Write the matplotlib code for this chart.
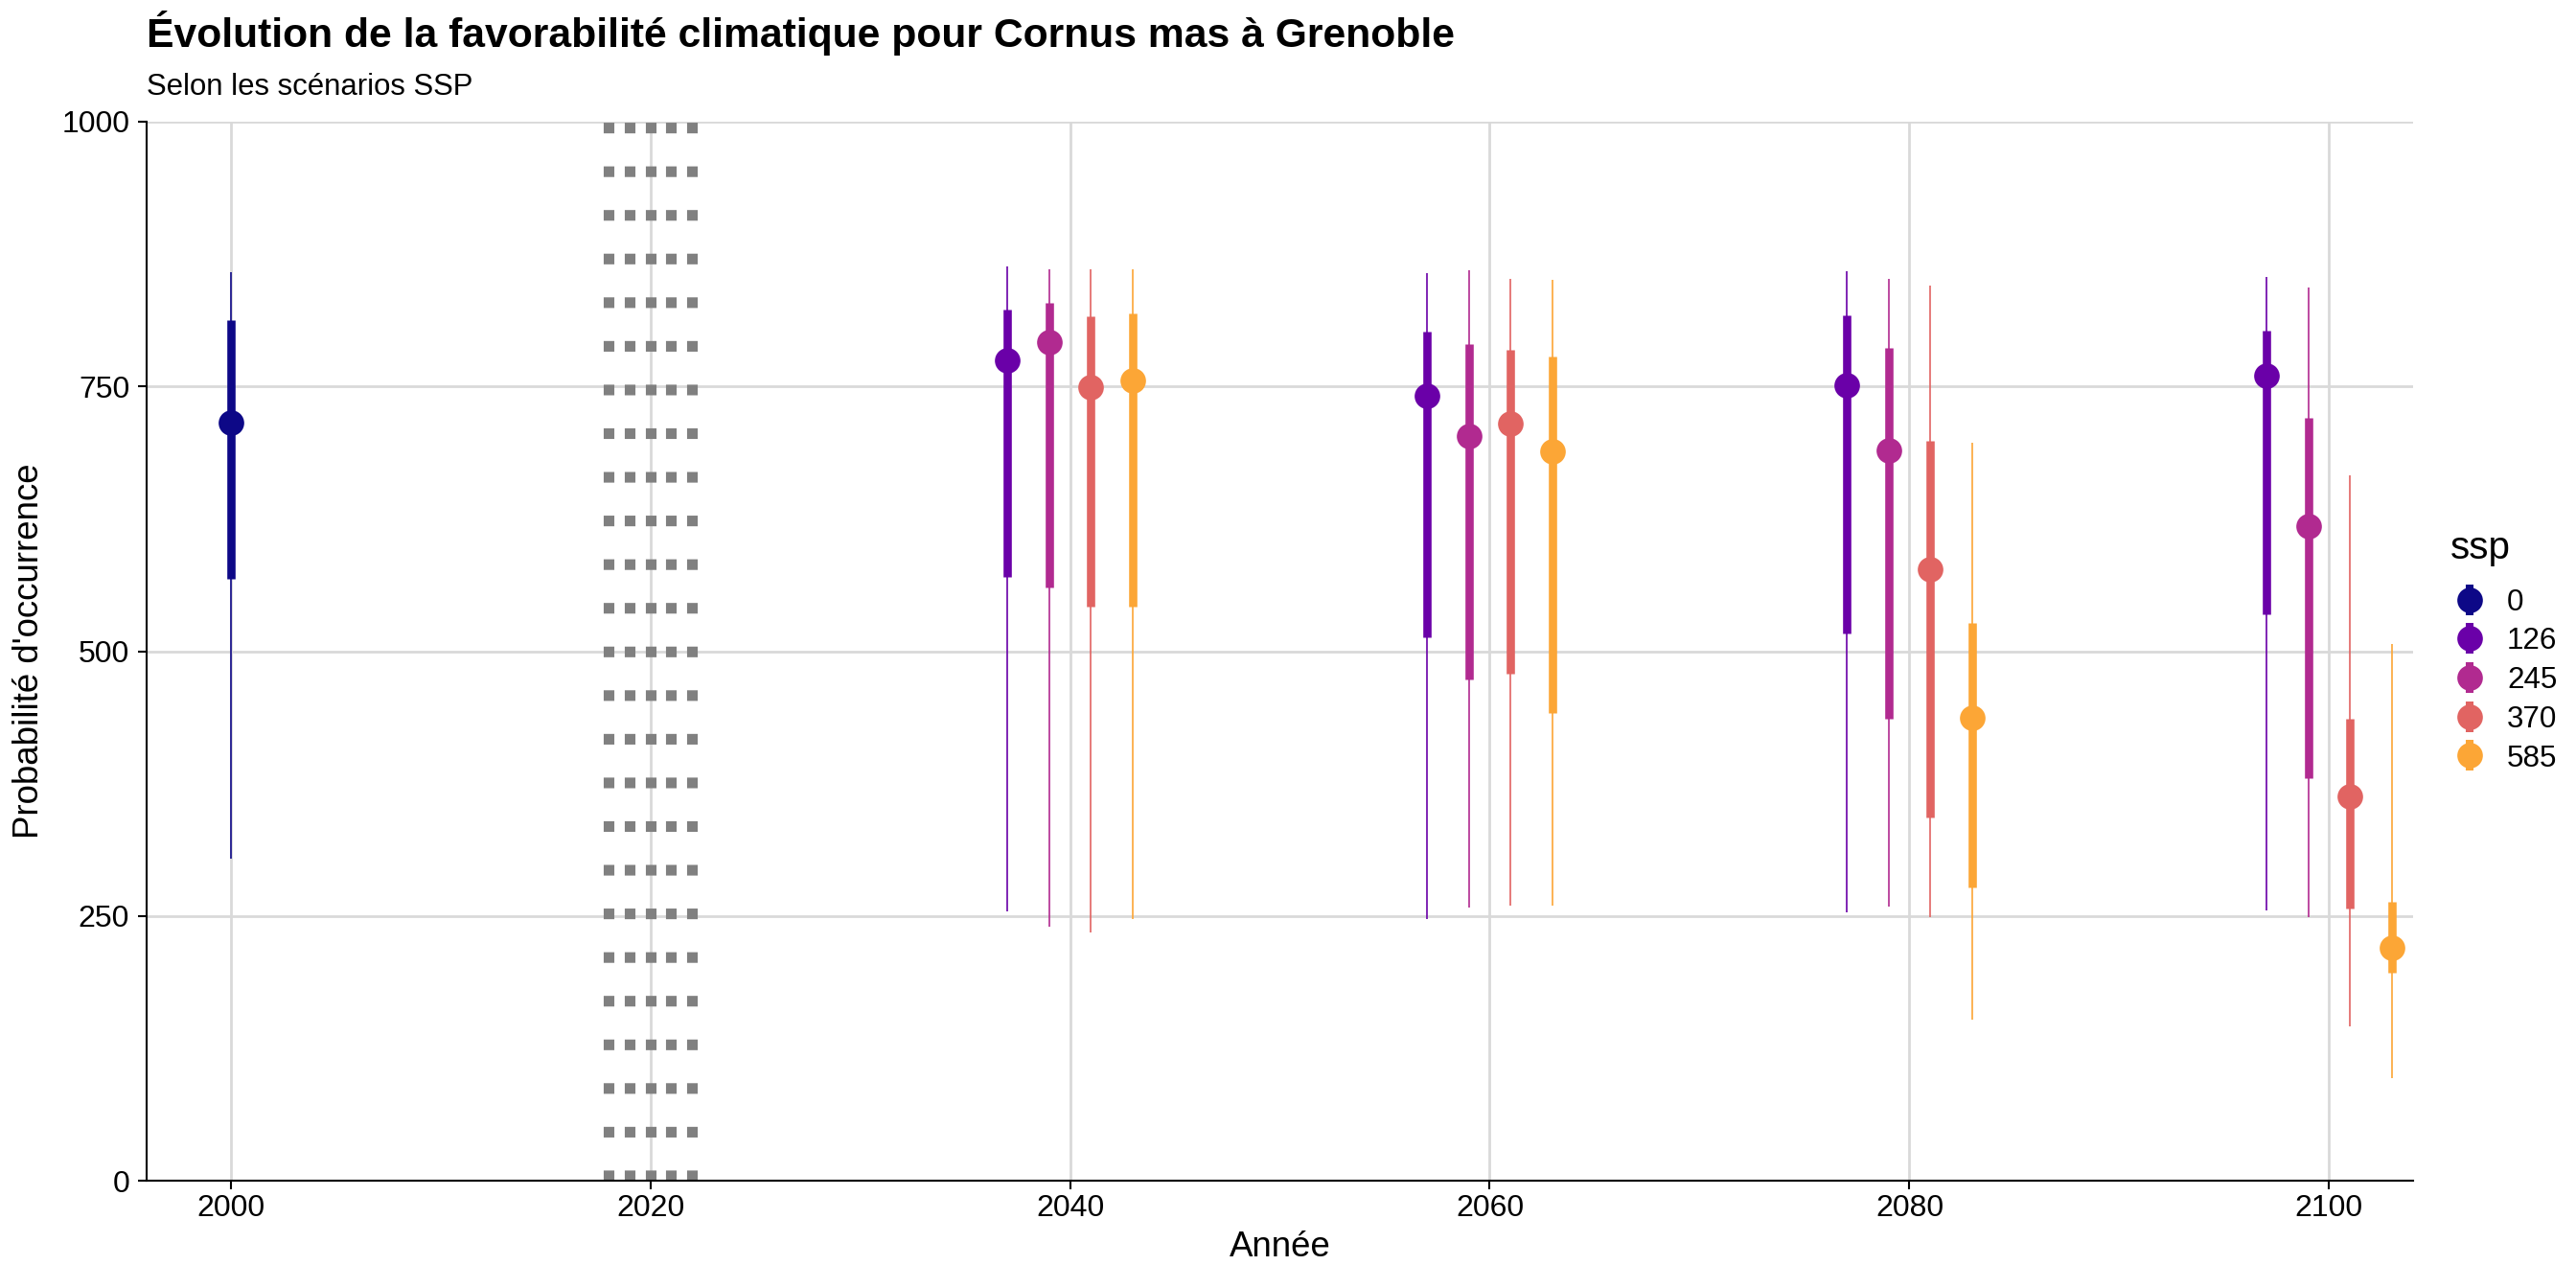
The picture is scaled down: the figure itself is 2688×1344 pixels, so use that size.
import matplotlib
matplotlib.use("Agg")
import matplotlib.pyplot as plt
from matplotlib.lines import Line2D
import numpy as np

# === Données ===
ssp_labels = ["0", "126", "245", "370", "585"]
ssp_colors = ["#0D0887", "#6A00A8", "#B12A90", "#E16462", "#FCA636"]

annees_hist = [2000]
annees_fut = [2040, 2060, 2080, 2100]

# ssp 0 (historique)
med_0 = [716]
q66_bas_0 = [568]
q66_haut_0 = [813]
q95_bas_0 = [304]
q95_haut_0 = [858]

# scénarios futurs : une liste par ssp, valeurs pour 2040, 2060, 2080, 2100
med_fut = {
    "126": [775, 741, 751, 760],
    "245": [792, 703, 690, 618],
    "370": [749, 715, 577, 363],
    "585": [756, 689, 437, 220],
}
q66_bas_fut = {
    "126": [570, 513, 517, 535],
    "245": [560, 473, 436, 380],
    "370": [542, 479, 343, 257],
    "585": [542, 442, 277, 196],
}
q66_haut_fut = {
    "126": [823, 802, 817, 803],
    "245": [829, 790, 786, 720],
    "370": [816, 785, 699, 436],
    "585": [819, 778, 527, 263],
}
q95_bas_fut = {
    "126": [254, 247, 253, 255],
    "245": [240, 258, 259, 249],
    "370": [234, 260, 249, 146],
    "585": [247, 260, 152, 97],
}
q95_haut_fut = {
    "126": [863, 857, 859, 853],
    "245": [861, 860, 852, 843],
    "370": [861, 852, 845, 666],
    "585": [861, 851, 697, 507],
}

annees_transition = [2018, 2019, 2020, 2021, 2022]

# === Style ===
plt.rcParams["font.family"] = ["Liberation Sans", "DejaVu Sans"]
TAILLE_AXE = 13.2
TAILLE_TICK = 11.5
TAILLE_LEG = 11.3
TAILLE_PT = 9.6

W, H = 2688, 1344
fig = plt.figure(figsize=(W / 200, H / 200), dpi=200)
ax = fig.add_axes([153 / W, 1 - 1232 / H, (2518 - 153) / W, (1232 - 127) / H])


def pointinterval(ax, x, med, b66, h66, b95, h95, couleur):
    ax.vlines(x, b95, h95, color=couleur, lw=0.6, zorder=3)
    ax.vlines(x, b66, h66, color=couleur, lw=3.1, zorder=4)
    ax.plot(x, med, "o", color=couleur, ms=TAILLE_PT, mec="none", zorder=5)


# lignes verticales pointillées (période de transition)
for a in annees_transition:
    ax.axvline(a, color="#808080", lw=4, dashes=(1, 3.1), dash_capstyle="butt",
               solid_capstyle="butt", zorder=2)

# historique
pointinterval(ax, np.array(annees_hist, float), med_0, q66_bas_0, q66_haut_0,
              q95_bas_0, q95_haut_0, ssp_colors[0])

# futurs, décalés (dodge)
largeur_dodge = 8
scen = ssp_labels[1:]
n = len(scen)
for i, s in enumerate(scen):
    decal = (i - (n - 1) / 2) * largeur_dodge / n
    x = np.array(annees_fut, float) + decal
    pointinterval(ax, x, med_fut[s], q66_bas_fut[s], q66_haut_fut[s],
                  q95_bas_fut[s], q95_haut_fut[s], ssp_colors[i + 1])

# axes
ax.set_xlim(1996, 2104)
ax.set_ylim(0, 1000)
ax.set_xticks([2000, 2020, 2040, 2060, 2080, 2100])
ax.set_yticks([0, 250, 500, 750, 1000])
ax.grid(True, color="#D9D9D9", lw=1.0, zorder=0)
ax.set_axisbelow(True)
for side in ["top", "right"]:
    ax.spines[side].set_visible(False)
for side in ["left", "bottom"]:
    ax.spines[side].set_linewidth(0.75)
    ax.spines[side].set_color("black")
    ax.spines[side].set_zorder(6)
ax.tick_params(axis="both", length=3.4, width=0.75, color="black",
               labelsize=TAILLE_TICK, labelcolor="black")
ax.tick_params(axis="x", pad=1.5)
ax.tick_params(axis="y", pad=3.0)

ax.set_xlabel("Année", fontsize=TAILLE_AXE, labelpad=3)
ax.set_ylabel("Probabilité d'occurrence", fontsize=TAILLE_AXE, labelpad=6)

# titres
fig.text(153 / W, 1 - 49.5 / H,
         "Évolution de la favorabilité climatique pour Cornus mas à Grenoble",
         fontsize=15.35, fontweight="bold", ha="left", va="baseline")
fig.text(153 / W, 1 - 99 / H, "Selon les scénarios SSP",
         fontsize=11.2, ha="left", va="baseline")

# légende (dessinée à la main, comme ggplot : point + petit segment)
fig.text(2557 / W, 1 - 583 / H, "ssp", fontsize=14.5, ha="left", va="baseline")
x_cle = 2577 / W
x_txt = 2616 / W
y0, dy = 625.5, 40.7
for i, (lab, c) in enumerate(zip(ssp_labels, ssp_colors)):
    y = 1 - (y0 + i * dy) / H
    fig.add_artist(Line2D([x_cle], [y], marker="|", ms=11.5, mew=2.9,
                          color=c, linestyle="none", transform=fig.transFigure))
    fig.add_artist(Line2D([x_cle], [y], marker="o", ms=TAILLE_PT, mec="none",
                          color=c, linestyle="none", transform=fig.transFigure))
    fig.text(x_txt, 1 - (y0 + i * dy + 11.2) / H, lab, fontsize=TAILLE_LEG,
             ha="left", va="baseline")

fig.savefig("out.png", dpi=200)
